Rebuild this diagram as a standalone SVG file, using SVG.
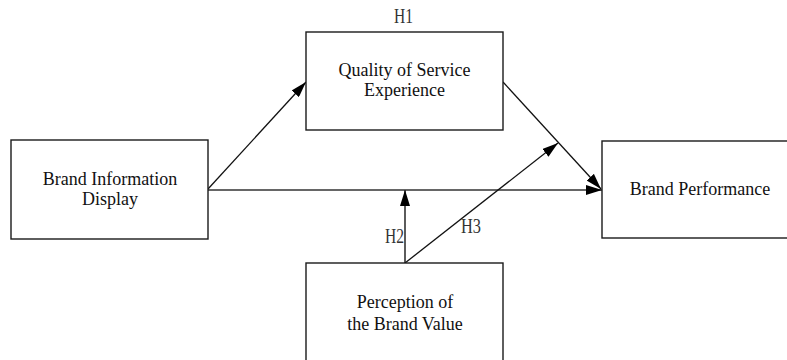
<svg xmlns="http://www.w3.org/2000/svg" width="787" height="360" viewBox="0 0 787 360">
  <defs>
    <marker id="arrow" viewBox="0 0 16 10" refX="16" refY="5" markerWidth="16" markerHeight="10" markerUnits="userSpaceOnUse" orient="auto">
      <path d="M0,0 L16,5 L0,10 z" fill="#000"/>
    </marker>
    <style>
      .box { fill: #fff; stroke: #1a1a1a; stroke-width: 1.4; }
      .lbl { font-family: "Liberation Serif", "Times New Roman", serif; font-size: 18px; fill: #111; text-anchor: middle; }
      .hyp { font-family: "Liberation Serif", "Times New Roman", serif; font-size: 20px; fill: #333; }
      .edge { stroke: #111; stroke-width: 1.3; fill: none; marker-end: url(#arrow); }
      .edge-h { stroke: #333; stroke-width: 1.6; fill: none; marker-end: url(#arrow); }
    </style>
  </defs>
  <rect width="787" height="360" fill="#fff"/>

  <!-- connectors -->
  <g id="connectors">
    <line class="edge" x1="208" y1="189" x2="306" y2="82"/>
    <line class="edge-h" x1="208" y1="190" x2="602" y2="190"/>
    <line class="edge" x1="503" y1="82" x2="601" y2="189"/>
    <line class="edge-h" x1="405" y1="263" x2="405" y2="190"/>
    <line class="edge" x1="405" y1="263" x2="558" y2="143"/>
  </g>

  <!-- hypothesis labels -->
  <g id="labels">
    <text class="hyp" x="394" y="23" textLength="19" lengthAdjust="spacingAndGlyphs">H1</text>
    <text class="hyp" x="385" y="243" textLength="19" lengthAdjust="spacingAndGlyphs">H2</text>
    <text class="hyp" x="461" y="233" textLength="20" lengthAdjust="spacingAndGlyphs">H3</text>
  </g>

  <g id="brand-information-display">
    <rect class="box" x="11" y="140" width="197" height="99"/>
    <text class="lbl" x="110" y="185">Brand Information</text>
    <text class="lbl" x="110" y="205">Display</text>
  </g>

  <g id="quality-of-service-experience">
    <rect class="box" x="306" y="32" width="197" height="98"/>
    <text class="lbl" x="404.5" y="76">Quality of Service</text>
    <text class="lbl" x="404.5" y="96">Experience</text>
  </g>

  <g id="brand-performance">
    <rect class="box" x="602" y="141" width="200" height="97"/>
    <text class="lbl" x="700" y="195">Brand Performance</text>
  </g>

  <g id="perception-of-brand-value">
    <rect class="box" x="306" y="263" width="197" height="110"/>
    <text class="lbl" x="405" y="308">Perception of</text>
    <text class="lbl" x="405" y="330">the Brand Value</text>
  </g>
</svg>
